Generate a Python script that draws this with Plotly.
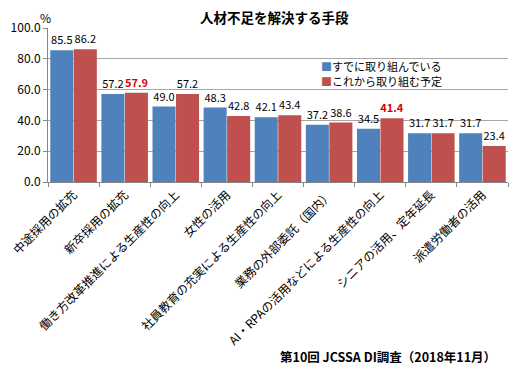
import plotly.graph_objects as go

categories = [
    "中途採用の拡充",
    "新卒採用の拡充",
    "働き方改革推進による生産性の向上",
    "女性の活用",
    "社員教育の充実による生産性の向上",
    "業務の外部委託（国内）",
    "AI・RPAの活用などによる生産性の向上",
    "シニアの活用、定年延長",
    "派遣労働者の活用",
]
already = [85.5, 57.2, 49.0, 48.3, 42.1, 37.2, 34.5, 31.7, 31.7]
planned = [86.2, 57.9, 57.2, 42.8, 43.4, 38.6, 41.4, 31.7, 23.4]
highlight_planned = [1, 6]  # indices shown in red bold
y_ticks = [0, 20, 40, 60, 80, 100]
series_names = ["すでに取り組んでいる", "これから取り組む予定"]

FONT = "Noto Sans CJK JP, Noto Sans, sans-serif"
BLUE = "#4F81BD"
RED = "#C0504D"

# page body has an 8px default margin; size figure to fill the remaining window
OFF = 8
W, H = 517 - OFF, 372 - OFF
PL, PR, PT, PB = 48, 508, 27.7, 182.3  # plot area in window pixels


def px_x(x):
    return (x - PL) / (PR - PL)


def px_y(y):
    return (PB - y) / (PB - PT)


planned_text = []
planned_colors = []
for i, v in enumerate(planned):
    if i in highlight_planned:
        planned_text.append(f"<b>{v:.1f}</b>")
        planned_colors.append("#E00000")
    else:
        planned_text.append(f"{v:.1f}")
        planned_colors.append("#000000")

fig = go.Figure()
fig.add_trace(go.Bar(
    x=categories, y=already, name=series_names[0],
    marker=dict(color=BLUE, line=dict(width=0)),
    text=[f"{v:.1f}" for v in already], textposition="outside",
    textfont=dict(size=11, color="#000000", family=FONT),
    constraintext="none", cliponaxis=False, showlegend=False,
))
fig.add_trace(go.Bar(
    x=categories, y=planned, name=series_names[1],
    marker=dict(color=RED, line=dict(width=0)),
    text=planned_text, textposition="outside",
    textfont=dict(size=11, color=planned_colors, family=FONT),
    constraintext="none", cliponaxis=False, showlegend=False,
))

fig.update_layout(
    width=W, height=H,
    margin=dict(l=PL - OFF, r=W - (PR - OFF), t=PT - OFF, b=H - (PB - OFF), pad=0),
    paper_bgcolor="white", plot_bgcolor="white",
    font=dict(family=FONT, color="#000000"),
    barmode="group", bargap=0.08, bargroupgap=0.02,
    showlegend=False,
)
fig.update_xaxes(
    tickangle=-45, tickfont=dict(size=12, family=FONT), automargin=False,
    showline=True, linecolor="#868686", linewidth=1,
    ticks="outside", ticklen=4, tickcolor="#868686", tickson="boundaries",
    showgrid=False,
)
fig.update_yaxes(
    range=[0, 100], tickvals=y_ticks, automargin=False,
    ticktext=[f"{t:.1f}" for t in y_ticks],
    tickfont=dict(size=12, family=FONT),
    showline=True, linecolor="#868686", linewidth=1,
    ticks="outside", ticklen=4, tickcolor="#868686",
    showgrid=True, gridcolor="#A6A6A6", gridwidth=1,
    zeroline=False,
)
# legend drawn as text entries with coloured squares
for k, (nm, col) in enumerate(zip(series_names, [BLUE, RED])):
    fig.add_annotation(
        text=f"<span style='color:{col}'>■</span>{nm}", xref="paper", yref="paper",
        x=px_x(319), y=px_y(65.5 + 15.5 * k), xanchor="left", yanchor="middle",
        showarrow=False, font=dict(size=11, family=FONT))

fig.add_annotation(text="<b>人材不足を解決する手段</b>", xref="paper", yref="paper",
                   x=px_x(274), y=px_y(16.5), showarrow=False,
                   font=dict(size=13.5, family=FONT), yanchor="middle")
fig.add_annotation(text="%", xref="paper", yref="paper", x=px_x(38), y=px_y(17),
                   showarrow=False, font=dict(size=12, family=FONT), yanchor="middle")
fig.add_annotation(text="<b>第10回 JCSSA DI調査（2018年11月）</b>", xref="paper", yref="paper",
                   x=px_x(498), y=px_y(357), xanchor="right", yanchor="middle",
                   showarrow=False, font=dict(size=12.5, family=FONT))

fig.write_html("out.html")
